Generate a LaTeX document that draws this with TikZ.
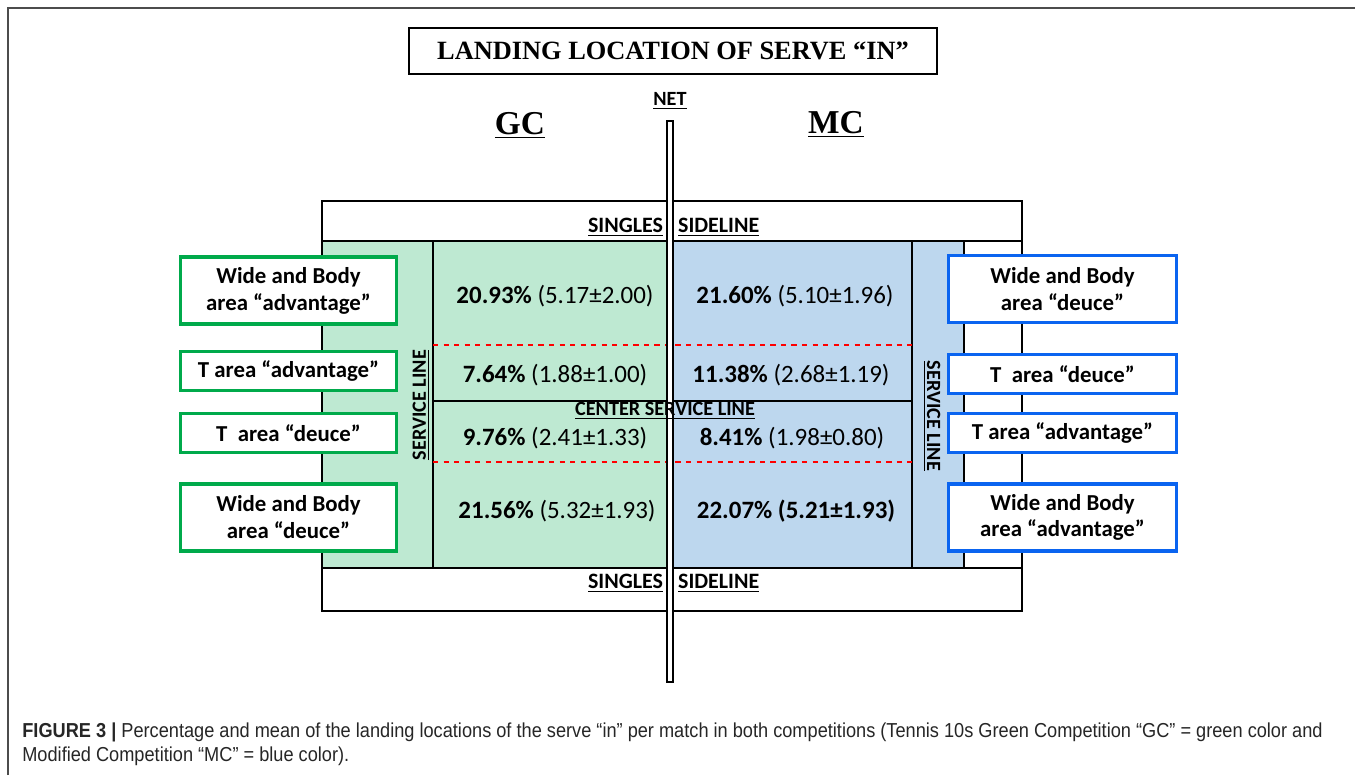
\documentclass[tikz,border=0pt]{standalone}
\usepackage{fontspec}
\setmainfont{Carlito}
\newfontfamily\serifbold{Liberation Serif}
\newfontfamily\captionfont[FakeStretch=0.9]{Liberation Sans}
\usetikzlibrary{positioning}
\definecolor{gcfill}{RGB}{190,233,210}
\definecolor{mcfill}{RGB}{189,215,238}
\definecolor{gcline}{RGB}{0,170,75}
\definecolor{mcline}{RGB}{10,100,240}

\begin{document}
\begin{tikzpicture}[x=0.02cm,y=-0.02cm,
  courtline/.style={black,line width=1pt},
  dashline/.style={red,dashed,line width=0.8pt},
  lbl/.style={font=\fontsize{11.5}{12}\selectfont\bfseries,inner sep=1pt},
  sidelbl/.style={lbl,font=\fontsize{12.5}{13}\selectfont\bfseries},
  pct/.style={font=\fontsize{14.2}{16}\selectfont},
  gcbox/.style={draw=gcline,fill=white,line width=1.8pt,minimum width=4.32cm,align=center,inner sep=1pt,font=\fontsize{13}{15.3}\selectfont\bfseries},
  mcbox/.style={gcbox,draw=mcline,minimum width=4.56cm},
  tallbox/.style={minimum height=1.34cm},
  shortbox/.style={minimum height=0.78cm}]
\useasboundingbox (0,0) rectangle (1355,775);

% frame of the figure
\draw[black!70,line width=1pt] (8,775) -- (8,8) -- (1355,8);

% title and headings
\node[draw,line width=0.8pt,minimum width=10.56cm,minimum height=0.92cm,font=\serifbold\bfseries\fontsize{15}{17}\selectfont] (title) at (673,51) {LANDING LOCATION OF SERVE “IN”};
\node[font=\serifbold\bfseries\fontsize{19}{20}\selectfont] (gc) at (520,125) {\underline{GC}};
\node[font=\serifbold\bfseries\fontsize{19}{20}\selectfont] (mc) at (836,124) {\underline{MC}};
\node[lbl] (netlbl) at (670,101) {\underline{NET}};

% court
\fill[gcfill] (322,241) rectangle (670,568);
\fill[mcfill] (670,241) rectangle (964,568);
\draw[courtline,line width=1.2pt] (322,201) rectangle (1022,611);
\draw[courtline] (322,241) -- (1022,241);
\draw[courtline] (322,568) -- (1022,568);
\draw[courtline] (964,241) -- (964,568);
\draw[courtline] (433,241) -- (433,568);
\draw[courtline] (912,241) -- (912,568);
\draw[courtline] (433,401) -- (912,401);
\draw[dashline] (433,345) -- (912,345);
\draw[dashline] (433,462) -- (912,462);

% net
\draw[line width=0.8pt,fill=white] (667,121) rectangle (673,682);

% line names
\node[sidelbl,anchor=east] (singtop) at (665,227) {\underline{SINGLES}};
\node[sidelbl,anchor=west] (sidetop) at (676,227) {\underline{SIDELINE}};
\node[sidelbl,anchor=east] (singbot) at (665,583) {\underline{SINGLES}};
\node[sidelbl,anchor=west] (sidebot) at (676,583) {\underline{SIDELINE}};
\node[lbl] (centerline) at (665,411) {\underline{CENTER SERVICE LINE}};
\node[lbl,rotate=90] (servgc) at (421,405) {\underline{SERVICE LINE}};
\node[lbl,rotate=-90] (servmc) at (932,416) {\underline{SERVICE LINE}};

% percentages
\node[pct] (gcwadv) at (555,296) {\textbf{20.93\%} (5.17±2.00)};
\node[pct] (gctadv) at (555,375) {\textbf{7.64\%} (1.88±1.00)};
\node[pct] (gctdeu) at (555,438) {\textbf{9.76\%} (2.41±1.33)};
\node[pct] (gcwdeu) at (557,511) {\textbf{21.56\%} (5.32±1.93)};
\node[pct] (mcwdeu) at (795,296) {\textbf{21.60\%} (5.10±1.96)};
\node[pct] (mctdeu) at (791,375) {\textbf{11.38\%} (2.68±1.19)};
\node[pct] (mctadv) at (792,438) {\textbf{8.41\%} (1.98±0.80)};
\node[pct] (mcwadv) at (796,511) {\textbf{22.07\% (5.21±1.93)}};

% areas GC
\node[gcbox,tallbox] (gcb1) at (288.5,290.5) {Wide and Body\\area “advantage”};
\node[gcbox,shortbox,below=0.49cm of gcb1] (gcb2) {T area “advantage”};
\node[gcbox,shortbox,below=0.4cm of gcb2] (gcb3) {T\ \ area “deuce”};
\node[gcbox,tallbox,below=0.56cm of gcb3] (gcb4) {Wide and Body\\area “deuce”};

% areas MC
\node[mcbox,tallbox] (mcb1) at (1062.5,289) {Wide and Body\\area “deuce”};
\node[mcbox,shortbox,below=0.58cm of mcb1] (mcb2) {T\ \ area “deuce”};
\node[mcbox,shortbox,below=0.34cm of mcb2] (mcb3) {T area “advantage”};
\node[mcbox,tallbox,below=0.56cm of mcb3] (mcb4) {Wide and Body\\area “advantage”};

% caption
\node[anchor=north west,align=left,inner sep=0pt,text=black!85,font=\captionfont\fontsize{11.5}{14.2}\selectfont] (caption) at (22,722)
  {\textbf{FIGURE 3 |} Percentage and mean of the landing locations of the serve “in” per match in both competitions (Tennis 10s Green Competition “GC” = green color and\\
   Modified Competition “MC” = blue color).};
\end{tikzpicture}
\end{document}
